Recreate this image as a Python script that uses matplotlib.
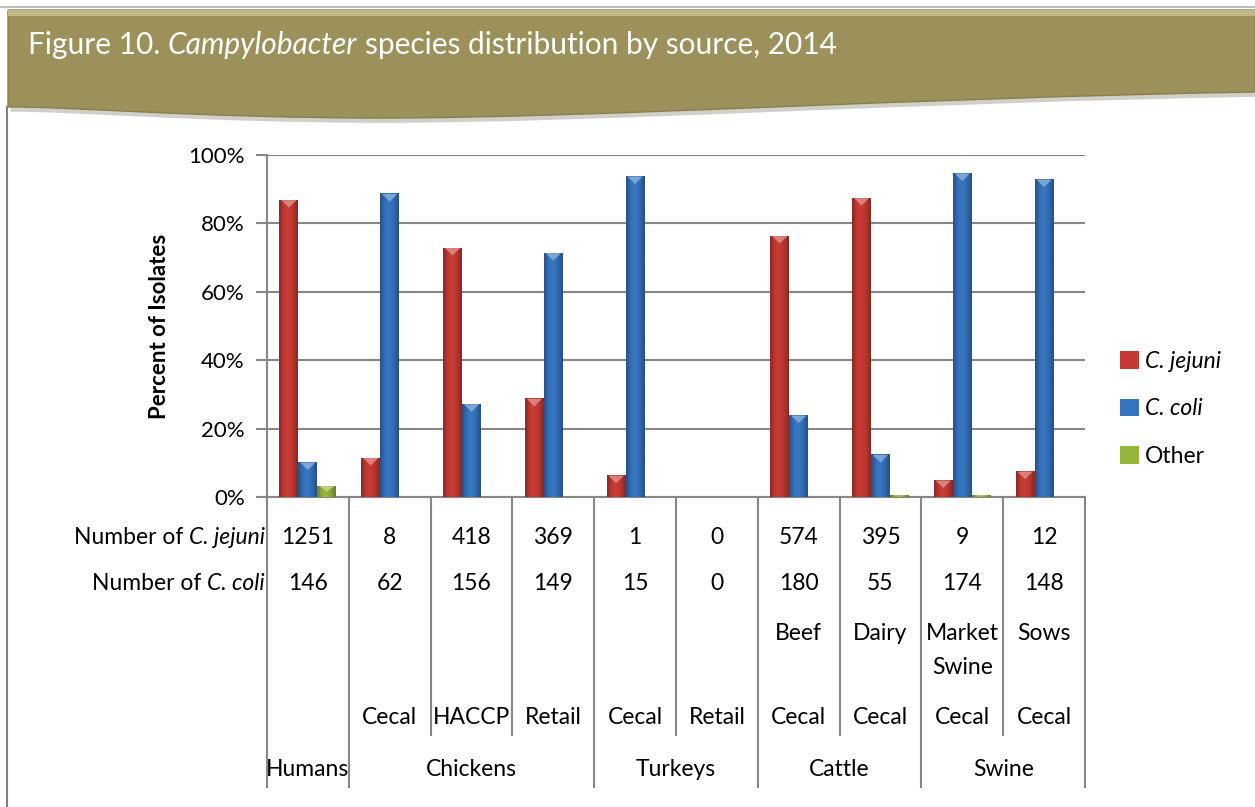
import matplotlib
matplotlib.use("Agg")
import matplotlib.pyplot as plt
from matplotlib.patches import PathPatch, Rectangle
from matplotlib.path import Path
from matplotlib.lines import Line2D
from matplotlib.transforms import blended_transform_factory
from matplotlib.colors import to_rgb
import numpy as np

# figure size in pixels
W, H = 1255, 807

sub_labels = ['', 'Cecal', 'HACCP', 'Retail', 'Cecal', 'Retail', 'Cecal', 'Cecal', 'Cecal', 'Cecal']
mid_labels = ['', '', '', '', '', '', 'Beef', 'Dairy', 'Market\nSwine', 'Sows']
groups = ['Humans', 'Chickens', 'Turkeys', 'Cattle', 'Swine']
group_start = [0, 1, 4, 6, 8]
group_end = [1, 4, 6, 8, 10]

n_jejuni = [1251, 8, 418, 369, 1, 0, 574, 395, 9, 12]
n_coli = [146, 62, 156, 149, 15, 0, 180, 55, 174, 148]

pct_jejuni = [86.8, 11.4, 72.8, 28.7, 6.2, 0, 76.3, 87.4, 4.8, 7.4]
pct_coli = [10.1, 88.6, 27.1, 71.3, 93.7, 0, 23.8, 12.3, 94.6, 92.8]
pct_other = [3.2, 0, 0, 0, 0, 0, 0, 0.4, 0.5, 0]

RED = '#C63A33'
BLUE = '#3674BF'
GREEN = '#95B53C'
GRID = '#878787'
FONT = 'Lato'
FS = 16.5

plt.rcParams['font.family'] = FONT


def fx(px):
    return px / W


def fy(py):
    return 1 - py / H


fig = plt.figure(figsize=(W / 100, H / 100), dpi=100)
renderer = fig.canvas.get_renderer()


def text_width(s, **kw):
    t = fig.text(0, 0, s, **kw)
    w = t.get_window_extent(renderer).width
    t.remove()
    return w


def text_run(x_px, y_px, parts, align='left', **kw):
    """Draw (string, style) pieces side by side, widths measured in pixels."""
    space = text_width('x x', **kw) - text_width('xx', **kw)
    widths = []
    for s, style in parts:
        core = s.strip(' ')
        w = text_width(core, fontstyle=style, **kw) if core else 0
        w += space * (len(s) - len(s.lstrip(' ')) + len(s) - len(s.rstrip(' ')))
        widths.append(w)
    x0 = x_px - sum(widths) if align == 'right' else x_px
    for (s, style), w in zip(parts, widths):
        lead = len(s) - len(s.lstrip(' '))
        core = s.strip(' ')
        if core:
            fig.text(fx(x0 + lead * space), fy(y_px), core, fontstyle=style,
                     ha='left', va='center', **kw)
        x0 += w


# header banner with wavy lower edge
verts = [(fx(8), fy(10)), (fx(1255), fy(10)), (fx(1255), fy(92)),
         (fx(900), fy(98)), (fx(600), fy(118)), (fx(380), fy(118)),
         (fx(200), fy(118)), (fx(60), fy(106)), (fx(8), fy(107)),
         (fx(8), fy(10))]
codes = [Path.MOVETO, Path.LINETO, Path.LINETO,
         Path.CURVE4, Path.CURVE4, Path.CURVE4,
         Path.CURVE4, Path.CURVE4, Path.CURVE4,
         Path.CLOSEPOLY]
shadow = [(x + 0.002, y - 0.006) for x, y in verts]
fig.patches.append(PathPatch(Path(shadow, codes), facecolor='#7a7a6a', edgecolor='none',
                             alpha=0.35, transform=fig.transFigure))
fig.patches.append(PathPatch(Path(verts, codes), facecolor='#9D915B', edgecolor='#8a7f4c',
                             lw=1, transform=fig.transFigure))
fig.patches.append(Rectangle((fx(8), fy(16)), fx(1247), 6 / H, facecolor='#cdc38e',
                             edgecolor='none', alpha=0.8, transform=fig.transFigure))
text_run(28, 45, [('Figure 10. ', 'normal'), ('Campylobacter', 'italic'),
                  (' species distribution by source, 2014', 'normal')],
         color='white', fontsize=21.5)

# page frame
fig.add_artist(Line2D([0, 1], [fy(7), fy(7)], color='#b0b0b0', lw=1.2, transform=fig.transFigure))
fig.add_artist(Line2D([fx(7), fx(7)], [fy(107), 0], color='#808080', lw=1.5, transform=fig.transFigure))

ax = fig.add_axes([fx(267), fy(497), fx(1085 - 267), (497 - 155) / H])

x = np.arange(len(n_jejuni))
bw = 0.232
series = [(pct_jejuni, -bw, RED, 'C. jejuni'),
          (pct_coli, 0, BLUE, 'C. coli'),
          (pct_other, bw, GREEN, 'Other')]

# horizontal shading profile across a bar (dark edges, lighter middle)
prof = np.array([0.72, 0.85, 0.95, 1.0, 1.02, 1.0, 0.96, 0.9, 0.82, 0.7])
for vals, off, col, lab in series:
    bars = ax.bar(x + off, vals, bw, color=col, lw=0, zorder=3, label=lab)
    rgb = np.array(to_rgb(col))
    grad = np.clip(rgb[None, None, :] * prof[None, :, None], 0, 1)
    light = np.clip(rgb + (1 - rgb) * 0.35, 0, 1)
    for b in bars:
        h = b.get_height()
        if h <= 0:
            continue
        x0, w = b.get_x(), b.get_width()
        ax.imshow(grad, extent=(x0, x0 + w, 0, h), aspect='auto', zorder=4,
                  interpolation='bicubic')
        d = min(2.2, h * 0.5)
        ax.fill([x0 + 0.1 * w, x0 + 0.9 * w, x0 + 0.5 * w], [h, h, h - d],
                color=light, lw=0, zorder=5)

ax.set_xlim(-0.5, len(x) - 0.5)
ax.set_ylim(0, 100)
ax.set_yticks(np.arange(0, 101, 20))
ax.set_yticklabels([f'{v}%' for v in range(0, 101, 20)])
ax.yaxis.grid(True, color=GRID, lw=1.5, zorder=0)
ax.set_axisbelow(True)
ax.tick_params(axis='y', length=8, width=1.5, color=GRID, labelsize=16, pad=8)
ax.set_xticks(np.arange(-0.5, len(x), 1.0))
ax.set_xticklabels([])
ax.tick_params(axis='x', length=0)
for s in ['top', 'right']:
    ax.spines[s].set_visible(False)
for s in ['left', 'bottom']:
    ax.spines[s].set_color(GRID)
    ax.spines[s].set_linewidth(1.5)
ax.set_ylabel('Percent of Isolates', fontsize=16, fontweight='bold')
ax.yaxis.set_label_coords(-(267 - 170) / (1085 - 267), 0.5)

# data table under the axis
tr = blended_transform_factory(ax.transData, ax.transAxes)


def ay(py):
    return (497 - py) / (497 - 155)


for i in range(len(x)):
    ax.text(i, ay(537), str(n_jejuni[i]), transform=tr, ha='center', va='center', fontsize=FS)
    ax.text(i, ay(583), str(n_coli[i]), transform=tr, ha='center', va='center', fontsize=FS)
    for k, line in enumerate(mid_labels[i].split('\n')):
        if line:
            ax.text(i, ay(634 + 33 * k), line, transform=tr, ha='center', va='center', fontsize=FS)
    if sub_labels[i]:
        ax.text(i, ay(718), sub_labels[i], transform=tr, ha='center', va='center', fontsize=FS)

for g, s, e in zip(groups, group_start, group_end):
    ax.text((s + e - 1) / 2, ay(770), g, transform=tr, ha='center', va='center', fontsize=FS)

group_edges = set([0] + group_end)
for b in range(len(x) + 1):
    bottom = 787 if b in group_edges else 735
    ax.add_artist(Line2D([b - 0.5, b - 0.5], [0, ay(bottom)], color=GRID, lw=1.5,
                         transform=tr, clip_on=False))

text_run(265, 537, [('Number of ', 'normal'), ('C. jejuni', 'italic')], align='right', fontsize=FS)
text_run(265, 583, [('Number of ', 'normal'), ('C. coli', 'italic')], align='right', fontsize=FS)

leg = ax.legend(loc='center left', bbox_to_anchor=((1111 - 267) / (1085 - 267), ay(409)),
                frameon=False, fontsize=FS, handlelength=0.8, handleheight=0.8,
                handletextpad=0.3, labelspacing=1.15, borderaxespad=0)
for t in leg.get_texts()[:2]:
    t.set_fontstyle('italic')

fig.savefig('out.png', dpi=100)
